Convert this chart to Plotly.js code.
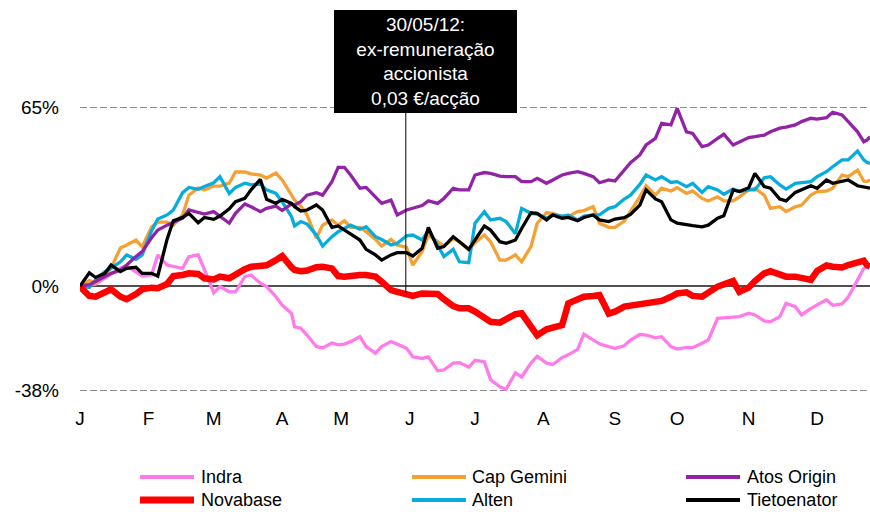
<!DOCTYPE html>
<html>
<head>
<meta charset="utf-8">
<script src="https://cdn.plot.ly/plotly-3.0.1.min.js"></script>
<style>
html,body{margin:0;padding:0;background:#fff;}
#chart{width:870px;height:512px;}
</style>
</head>
<body>
<div id="chart"></div>
<script>
const dates = ['2012-01-02','2012-01-05','2012-01-09','2012-01-12','2012-01-16','2012-01-19','2012-01-23','2012-01-26','2012-01-30','2012-02-02',
'2012-02-06','2012-02-09','2012-02-13','2012-02-16','2012-02-20','2012-02-23','2012-02-27','2012-03-01','2012-03-05','2012-03-08',
'2012-03-12','2012-03-15','2012-03-19','2012-03-22','2012-03-26','2012-03-29','2012-04-02','2012-04-05','2012-04-10','2012-04-12',
'2012-04-16','2012-04-19','2012-04-23','2012-04-26','2012-04-30','2012-05-03','2012-05-07','2012-05-10','2012-05-14','2012-05-17',
'2012-05-21','2012-05-24','2012-05-28','2012-05-31','2012-06-04','2012-06-07','2012-06-11','2012-06-14','2012-06-18','2012-06-21',
'2012-06-25','2012-06-28','2012-07-02','2012-07-05','2012-07-09','2012-07-12','2012-07-16','2012-07-19','2012-07-23','2012-07-26',
'2012-07-30','2012-08-02','2012-08-06','2012-08-09','2012-08-13','2012-08-16','2012-08-20','2012-08-23','2012-08-27','2012-08-30',
'2012-09-03','2012-09-06','2012-09-10','2012-09-13','2012-09-17','2012-09-20','2012-09-24','2012-09-27','2012-10-01','2012-10-04',
'2012-10-08','2012-10-11','2012-10-15','2012-10-18','2012-10-22','2012-10-25','2012-10-29','2012-11-01','2012-11-05','2012-11-08',
'2012-11-12','2012-11-15','2012-11-19','2012-11-22','2012-11-26','2012-11-29','2012-12-03','2012-12-06','2012-12-10','2012-12-13',
'2012-12-17','2012-12-20','2012-12-24','2012-12-27','2012-12-28'];

const indra = [0,0.5,0.7,2.9,4.4,6.5,7.3,5.1,3.6,4.0,
11.3,7.6,7.0,6.4,10.6,11.3,6.0,-2.5,-0.2,-2.1,
-2.1,3.4,4.0,1.0,-0.2,-3.9,-6.9,-9.9,-14.8,-15.3,
-17.8,-22,-22.5,-20.7,-21.4,-21.1,-20.2,-18.4,-22.0,-24.4,
-22.0,-20.2,-21.1,-22.6,-25.7,-26.3,-25.7,-30.8,-30.5,-28.0,
-27.8,-29.5,-27,-27.5,-34,-36.6,-37.5,-31.5,-33,-28,
-25.5,-28,-28.5,-26,-25,-23,-17.5,-19.5,-21,-22,
-22.6,-21.7,-19.6,-17.6,-17.8,-18.8,-18.4,-22.0,-22.9,-22.3,
-22.4,-20.8,-19.6,-11.7,-11.5,-11.5,-11.1,-9.9,-10.5,-12.7,
-13,-11.1,-6.3,-7.5,-10.5,-8.1,-6.9,-5,-7,-6.5,
-4,2,6.4,7.0,7.6];

const novabase = [-0.2,-3.6,-3.9,-2.1,-1.2,-3.9,-4.8,-2.9,-1.2,-0.6,
-0.8,0.7,3.6,4.0,4.6,4.4,2.8,2.4,3.4,2.8,
4.4,6.1,7.0,7.4,7.5,9.4,10.9,6.8,5.8,5.4,
5.6,6.8,7.0,6.4,3.6,3.4,3.8,4.0,4.0,3.4,
1.6,-1.5,-2.1,-3.2,-3.6,-2.7,-2.9,-2.9,-4.8,-7.3,
-8.1,-8.1,-9.3,-11.7,-13,-13.3,-12.3,-10.2,-9.9,-15,
-17.9,-15.7,-15,-14.2,-6.3,-4.5,-3.9,-3.6,-3.3,-10,
-9.3,-7.5,-7.1,-6.3,-6.3,-5.7,-5.4,-3.9,-2.7,-2.3,
-3.6,-3.9,-2.3,-0.2,0.6,1.8,-2.1,-0.6,1.8,4.6,
5.4,4.2,3.4,3.4,3.0,2.2,5.5,7.5,7.0,6.7,
7.6,8.2,9.2,7.6,7.0];

const capGemini = [0,2,1.1,4,6.5,13.8,14.9,16.7,14.2,21.4,
23.2,23.2,22.1,25.8,33,35.6,34.9,36.3,36.3,37.4,
41.4,41.4,40.7,40.3,39.2,41,38.5,33,31.2,29,
25.8,17.4,22.1,24,22.1,23.7,21.3,21.3,19.7,16.9,
14.5,16.9,14.9,14,7.6,12.5,18.5,16.1,14.5,17.3,
16.1,13.1,15.7,18.5,16.1,9.4,9.4,11.3,8.8,14.3,
22.8,26.6,26.4,25.2,25.2,27,27.4,28.8,22.8,21.3,
21.3,23.6,27,32.4,36.4,33,35.5,34.5,35.7,33.6,
34.5,31.8,30.9,32.4,30.9,30.9,32.4,34.9,35.5,33,
28.2,28.8,27,28.8,29.4,33,34.3,34.5,35.5,40.3,
39.7,42.1,38.1,37.9,38.5];

const alten = [0,-0.5,2.2,5.2,6.4,8.8,11.3,9.7,11.3,20,
24.3,25.8,27.6,33.9,35.8,35.1,36.1,37.5,39.7,33.6,
35.8,37.3,36.7,37,34.9,33.6,30.6,25.2,21.8,23.4,
22.5,18.5,14.5,17.9,19.7,20.9,22.1,20.6,21.5,17.9,
16.9,14.9,15.5,18.2,18.5,16.7,20.1,14.9,10.7,13.3,
8.8,8.5,22.8,27,24,24.6,23.4,19,28.2,26.4,
26.1,24.6,25.8,25.4,25.7,24,25.4,25.8,25.8,28.2,
28.8,31.6,33,36.9,40.3,38.5,39.7,37.6,37.9,36.1,
37.3,34,36.1,34.9,33.3,35.2,34.3,34.9,34.9,39.3,
39.7,36.7,35.2,37.3,37.6,37.9,39.7,41.5,43.3,45.8,
45.8,49,45.8,44.9,44.5];

const atosOrigin = [0,0.5,1.6,3.4,4.6,5.8,7.6,10.7,12.5,17.5,
20.3,22.1,23,24.6,27.6,26.6,26.1,27,25.4,22.8,
26.4,29.8,28.8,27,28.2,29,27.4,29.8,29.4,30.6,
33,33.9,33,37.9,43.1,43.1,40.3,35.5,35.8,32.2,
30,31.2,25.8,27.6,28.2,29.2,30.9,30,31.8,35.5,
34.9,34.9,40.3,41.2,40.9,39.9,39.7,39.7,37.9,37.9,
39.1,37.3,38.5,40.3,40.9,41.5,40.9,39.7,37.5,38.5,
38.1,42,44.8,47.6,51.2,53.6,59.1,58.5,64.5,56,
55.4,50.6,51.2,53.6,55.1,51.2,52.4,53.9,54.2,54.8,
56,57.3,57.7,58.5,59.7,60.9,60.6,61.1,63.1,62.1,
59.7,56,52.4,53,54.2];

const tietoenator = [0,4.8,3.1,4.6,7.6,5.2,6.4,6.8,4.6,4.6,
3.6,17,23.7,24.9,26.4,23,24.9,24.2,25.4,28,
30.6,31.8,34.9,38.7,31.5,30,31.5,30,28.8,27.2,
27.6,29.4,27.6,21.3,21.8,20.3,19.1,16.7,13.3,11.3,
9.4,11.3,12.1,12.1,10.9,13.7,21.3,13.7,14.3,17.9,
16.1,13.3,16.7,21.8,20.3,16.1,15.5,16.7,20.9,26.6,
26.4,24,25.8,24.6,24.9,23.7,24.9,25.8,24,23.4,
24.3,24.8,26,29.4,34.9,31.6,30.6,24,22.8,22.1,
21.9,21.5,22.1,24.6,25.5,34.9,34.3,35.7,40.9,36.1,
35.5,31.6,30.9,34,34.9,36.4,35.5,38.5,37.3,38.1,
38.5,36.4,36.1,35.7,35.5];

const monthTickDates = ['2012-01-02','2012-02-01','2012-03-01','2012-04-02','2012-05-02','2012-06-01',
'2012-07-02','2012-08-01','2012-09-03','2012-10-01','2012-11-01','2012-12-03'];
const monthTickLabels = ['J','F','M','A','M','J','J','A','S','O','N','D'];
const yTickValues = [-38, 0, 65];
const yTickLabels = ['-38%', '0%', '65%'];
const eventDate = '2012-05-30 18:00';
const eventText = '30/05/12:<br>ex-remuneração<br>accionista<br>0,03 €/acção';
const marketHolidays = ['2012-04-06','2012-04-09','2012-05-01','2012-12-25','2012-12-26'];

// legend order (row-major, 3 columns)
const legendNames = ['Indra','Cap Gemini','Atos Origin','Novabase','Alten','Tietoenator'];

const seriesStyle = {
  'Indra':       {y: indra,       color: '#FF7BEA', width: 3.3},
  'Cap Gemini':  {y: capGemini,   color: '#F5A033', width: 3.3},
  'Alten':       {y: alten,       color: '#08ACDC', width: 3.3},
  'Atos Origin': {y: atosOrigin,  color: '#9223A6', width: 3.3},
  'Novabase':    {y: novabase,    color: '#FF0000', width: 6.5},
  'Tietoenator': {y: tietoenator, color: '#000000', width: 3.3}
};
const drawOrder = ['Indra','Cap Gemini','Alten','Atos Origin','Novabase','Tietoenator'];

const FONT = 'Liberation Sans, Arial, sans-serif';
const W = 870, H = 512;
const M = {l: 80, r: 0, t: 20, b: 119};

const traces = drawOrder.map(n => ({
  type: 'scatter', mode: 'lines', name: n, x: dates, y: seriesStyle[n].y,
  line: {color: seriesStyle[n].color, width: seriesStyle[n].width, shape: 'linear'},
  showlegend: false, hoverinfo: 'skip'
}));

// custom legend positions (pixels -> paper)
const plotW = W - M.l - M.r, plotH = H - M.t - M.b;
const px2x = p => (p - M.l) / plotW;
const px2y = p => (H - M.b - p) / plotH;
const colLineStart = [140, 412, 686];
const colLineEnd = [194, 466, 740];
const colTextStart = [199, 470, 745];
const rowY = [477, 500];

const shapes = [
  {type: 'line', xref: 'x', yref: 'y', x0: eventDate, x1: eventDate, y0: -2.5, y1: 63,
   line: {color: '#000', width: 1}}
];
const annotations = [
  {xref: 'paper', yref: 'paper', x: px2x(425.5), y: px2y(62), xanchor: 'center', yanchor: 'middle',
   text: eventText, showarrow: false, align: 'center', bgcolor: '#000', bordercolor: '#000',
   borderwidth: 0, borderpad: 4, width: 175,
   font: {family: FONT, size: 19, color: '#fff'}}
];
legendNames.forEach((n, i) => {
  const c = i % 3, r = Math.floor(i / 3);
  shapes.push({type: 'line', xref: 'paper', yref: 'paper',
    x0: px2x(colLineStart[c]), x1: px2x(colLineEnd[c]), y0: px2y(rowY[r]), y1: px2y(rowY[r]),
    line: {color: seriesStyle[n].color, width: n === 'Novabase' ? 7 : 4}});
  annotations.push({xref: 'paper', yref: 'paper', x: px2x(colTextStart[c]), y: px2y(rowY[r]),
    xanchor: 'left', yanchor: 'middle', text: n, showarrow: false,
    font: {family: FONT, size: 18, color: '#000'}});
});

const layout = {
  width: W, height: H,
  margin: M,
  paper_bgcolor: '#fff', plot_bgcolor: '#fff',
  font: {family: FONT, size: 19, color: '#000'},
  showlegend: false,
  xaxis: {
    type: 'date',
    range: ['2012-01-02', '2012-12-28'],
    rangebreaks: [{bounds: ['sat', 'mon']}, {values: marketHolidays}],
    tickmode: 'array', tickvals: monthTickDates, ticktext: monthTickLabels,
    showgrid: false, zeroline: false, showline: false, ticks: '',
    ticklabelstandoff: 12,
    tickfont: {family: FONT, size: 19, color: '#000'}
  },
  yaxis: {
    range: [-38.85, 96.59],
    tickmode: 'array', tickvals: yTickValues, ticktext: yTickLabels,
    showgrid: true, gridcolor: '#8c8c8c', gridwidth: 1, griddash: '7px,3px',
    zeroline: true, zerolinecolor: '#505050', zerolinewidth: 1.3,
    showline: false, ticks: '',
    ticklabelstandoff: 20,
    tickfont: {family: FONT, size: 19, color: '#000'}
  },
  shapes: shapes,
  annotations: annotations
};

Plotly.newPlot('chart', traces, layout, {staticPlot: true, displayModeBar: false});
</script>
</body>
</html>
